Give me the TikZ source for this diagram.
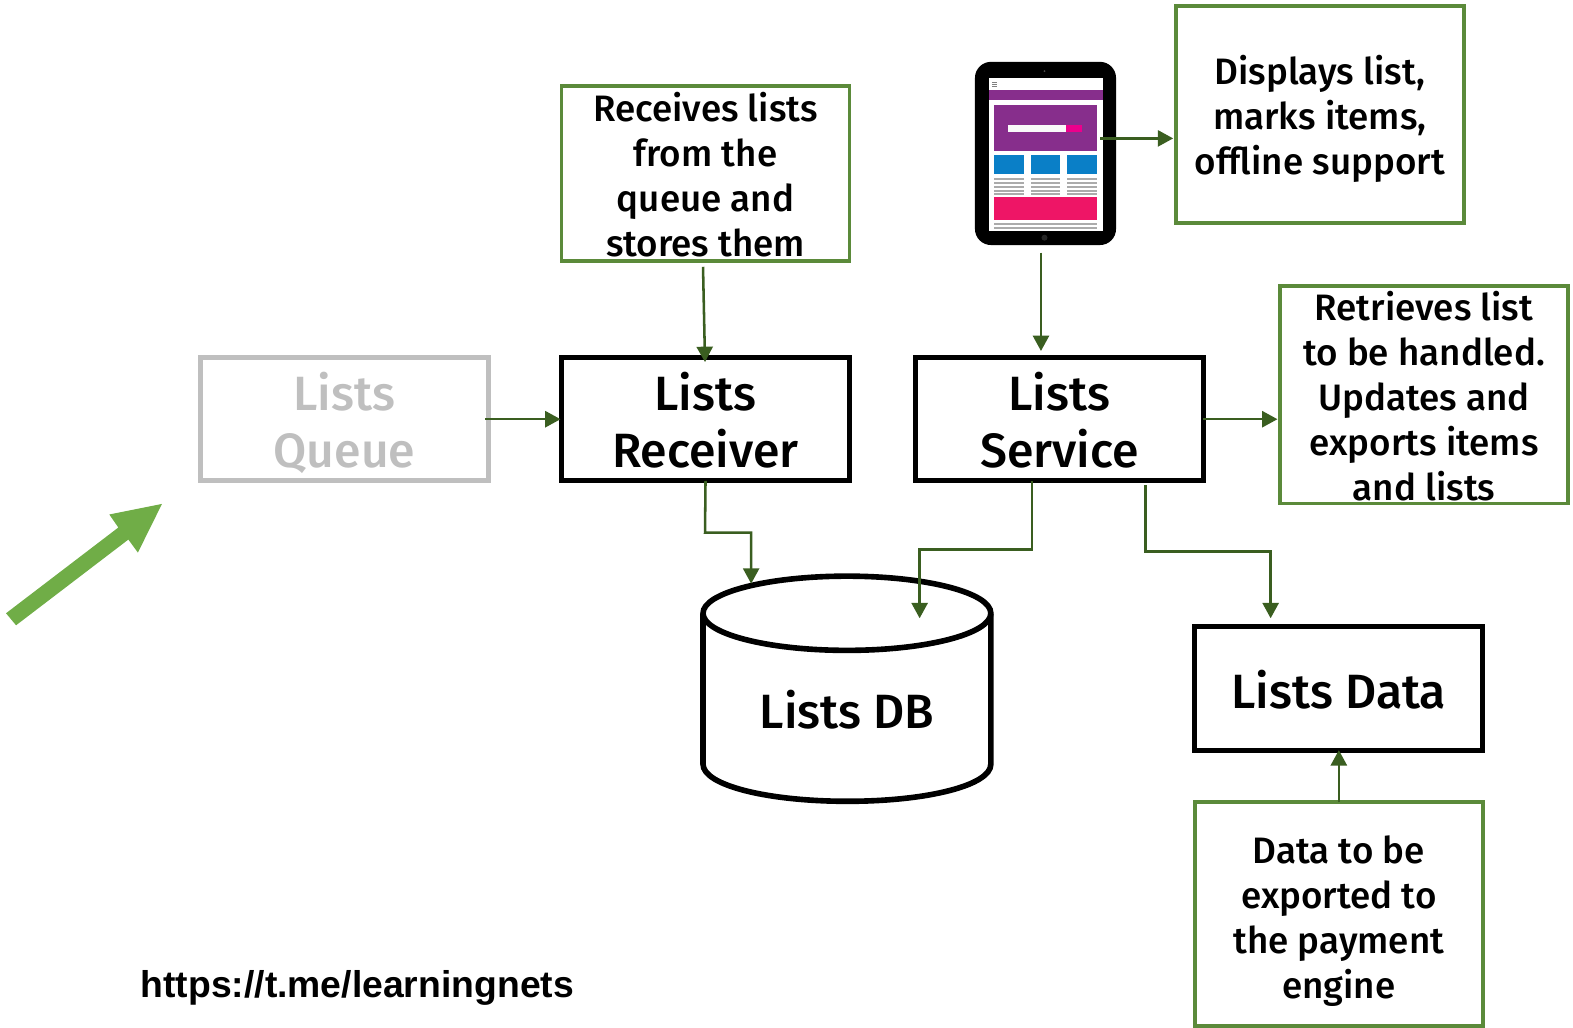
\documentclass[tikz,border=0pt]{standalone}
\usepackage{fontspec}
\setmainfont{Fira Sans}[UprightFont={* Medium}]
\newfontfamily\urlfont{Liberation Sans}
\usetikzlibrary{arrows.meta}
\definecolor{arrowgreen}{HTML}{3A5E20}
\definecolor{boxgreen}{HTML}{5B8A3A}
\definecolor{biggreen}{HTML}{70AD47}
\definecolor{queuegray}{HTML}{BFBFBF}
\definecolor{tabpurple}{HTML}{872E8C}
\definecolor{tabpink}{HTML}{EE1566}
\definecolor{tabmag}{HTML}{EC008C}
\definecolor{tabblue}{HTML}{0A7FC7}
\definecolor{tabgray}{HTML}{ABABAB}
\tikzset{
  x=0.75pt,y=-0.75pt,
  mainbox/.style={draw=black,line width=3.75pt,rectangle,inner sep=0pt,outer sep=0pt,
    minimum width=215.25pt,minimum height=92.25pt},
  grayedbox/.style={mainbox,draw=queuegray},
  bigtext/.style={inner sep=0pt,align=center,font=\fontsize{36}{42.75}\selectfont},
  notebox/.style={draw=boxgreen,line width=2.8pt,rectangle,inner sep=0pt,outer sep=0pt,
    minimum width=215.25pt},
  notetext/.style={inner sep=0pt,align=center,font=\fontsize{27.5}{33.6}\selectfont},
  link/.style={draw=arrowgreen,line width=1.9pt,-{Triangle[length=11.5pt,width=12pt]}},
  dbline/.style={draw=black,line width=4.2pt},
}
\begin{document}
\begin{tikzpicture}
\useasboundingbox (0,0) rectangle (1568.5,1025);
% main boxes
\node[grayedbox] (queue) at (343.5,418) {};
\node[mainbox] (receiver) at (703.5,418) {};
\node[mainbox] (service) at (1056.5,418) {};
\node[mainbox] (data) at (1335,686.5) {};
\node[bigtext,text=queuegray] (queuelabel) at ([yshift=-2.5pt]queue.center) {Lists\\Queue};
\node[bigtext] (receiverlabel) at ([yshift=-0.8pt]receiver.center) {Lists\\Receiver};
\node[bigtext] (servicelabel) at ([yshift=-0.8pt]service.center) {Lists\\Service};
\node[bigtext] (datalabel) at ([yshift=-1.2pt]data.center) {Lists Data};
% note boxes
\node[notebox,minimum height=130.5pt] (nreceives) at (703.5,173) {};
\node[notebox,minimum height=162pt] (ndisplays) at (1316,114) {};
\node[notebox,minimum height=162.75pt] (nretrieves) at (1420,393.5) {};
\node[notebox,minimum height=167.25pt] (nexport) at (1335,911.5) {};
\node[notetext] (nreceiveslabel) at ([yshift=-0.8pt]nreceives.center) {Receives lists\\from the\\queue and\\stores them};
\node[notetext] (ndisplayslabel) at ([yshift=-3.5pt]ndisplays.center) {Displays list,\\marks items,\\offline support};
\node[notetext] (nretrieveslabel) at ([yshift=-1pt]nretrieves.center) {Retrieves list\\to be handled.\\Updates and\\exports items\\and lists};
\node[notetext] (nexportlabel) at ([yshift=-5.5pt]nexport.center) {Data to be\\exported to\\the payment\\engine};
% cylinder
\draw[dbline,fill=white] (701,612) -- (701,762)
  .. controls (701,783) and (765,799) .. (845,799)
  .. controls (925,799) and (988,783) .. (988,762) -- (988,612);
\draw[dbline,fill=white] (844.5,611.5) ellipse [x radius=143.5,y radius=37];
\node[bigtext] (db) at (844.5,707.5) {Lists DB};
\coordinate (dbA) at (749,582);
\coordinate (dbB) at (917,616.5);
% tablet
\node[fill=black,rounded corners=12pt,minimum width=105.5pt,minimum height=137pt,inner sep=0pt,outer sep=0pt] (tablet) at (1042.5,153) {};
\fill[white] (986,78) rectangle (1100,230);
\fill[tabpurple] (986,90) rectangle (1100,100);
\fill[tabpurple] (991,105) rectangle (1094,151);
\fill[white!95!gray] (1005,125) rectangle (1063,132);
\fill[tabmag] (1063,125) rectangle (1079,132);
\fill[tabblue] (991,155) rectangle (1021,173);
\fill[tabblue] (1028,155) rectangle (1057,173);
\fill[tabblue] (1064,155) rectangle (1094,173);
\foreach \yy in {177.5,181.5,185.5,189.5,192.5}{
  \fill[tabgray] (991,\yy) rectangle (1021,\yy+1.6);
  \fill[tabgray] (1028,\yy) rectangle (1057,\yy+1.6);
  \fill[tabgray] (1064,\yy) rectangle (1094,\yy+1.6);
}
\fill[tabpink] (991,196) rectangle (1094,219);
\fill[tabgray] (991,222.5) rectangle (1094,224.2);
\fill[tabgray] (991,226.8) rectangle (1094,228.5);
\foreach \yy in {82,84,86}{\fill[gray] (989,\yy) rectangle (994,\yy+0.9);}
\fill[gray!60!black] (1041.5,71) circle (1);
\fill[gray!30!black] (1041.5,237) circle (3);
% arrow ends
\coordinate (tabR) at (1097,138);
\coordinate (tabB) at (1038,252);
\coordinate (svcTop) at (1038,350);
\coordinate (rcvTop) at (703,361);
\coordinate (nrcvBot) at (701,266);
\coordinate (svcA) at (1029,480);
\coordinate (svcB) at (1142,484);
\coordinate (dataTop) at (1267,616.5);
% connectors
\draw[link] (queue.east) ++(-3,0) -- ([xshift=-0.8pt]receiver.west);
\draw[link] (service.east) -- ([xshift=-2pt]nretrieves.west |- service.east);
\draw[link] (tabR) -- ([xshift=-2pt]ndisplays.west |- tabR);
\draw[link] (tabB) -- (svcTop);
\draw[link] (nrcvBot) -- (rcvTop);
\draw[link] (receiver.south) -- (703,531) -- (749,531) -- (dbA);
\draw[link] (svcA) -- (1029,548) -- (917,548) -- (dbB);
\draw[link] (svcB) -- (1142,550) -- (1267,550) -- (dataTop);
\draw[link] (nexport.north) -- (data.south);
% big arrow
\fill[biggreen] (6,611.5) -- (118,526) -- (109,513) -- (161.5,502.5) -- (137.5,551) -- (128,538) -- (16,623.5) -- cycle;
% url
\node[inner sep=0pt,anchor=base west,font=\urlfont\bfseries\fontsize{27.9}{30}\selectfont] (url) at (140,995) {https://t.me/learningnets};
\end{tikzpicture}
\end{document}
